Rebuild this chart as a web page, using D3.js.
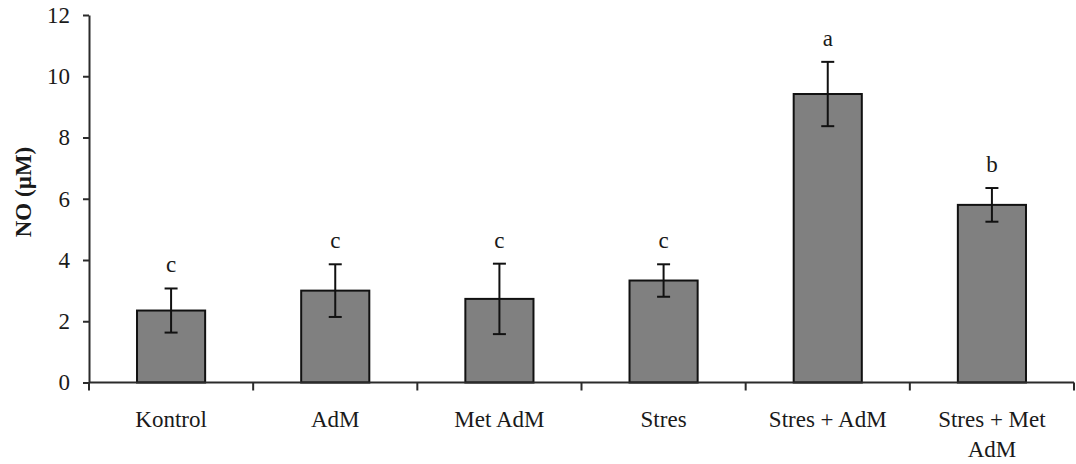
<!DOCTYPE html>
<html>
<head>
<meta charset="utf-8">
<script src="https://cdn.jsdelivr.net/npm/d3@7"></script>
<style>
  html, body { margin: 0; padding: 0; background: #fff; }
  svg { display: block; }
</style>
</head>
<body>
<svg id="chart" width="1076" height="464"></svg>
<script>
// Groups, mean NO concentration (µM), error (±) and significance letters
const groups  = ["Kontrol", "AdM", "Met AdM", "Stres", "Stres + AdM", "Stres + Met AdM"];
const means   = [2.35, 3.0, 2.73, 3.33, 9.42, 5.8];
const errors  = [0.72, 0.86, 1.15, 0.53, 1.05, 0.55];
const letters = ["c", "c", "c", "c", "a", "b"];
const yTicks  = [0, 2, 4, 6, 8, 10, 12];

const FONT = "'Liberation Serif', 'Times New Roman', Times, serif";
const TEXT_COLOR = "#1a1a1a";

const svg = d3.select("#chart");
const margin = { left: 89, right: 2, top: 15, bottom: 81.5 };
const W = 1076, H = 464;

const x = d3.scaleBand()
  .domain(groups)
  .range([margin.left, W - margin.right])
  .paddingInner(0.585)
  .paddingOuter(0.2925);

const xCat = d3.scaleBand().domain(groups).range([margin.left, W - margin.right]);

const y = d3.scaleLinear().domain([0, 12]).range([H - margin.bottom, margin.top]);

const axisColor = "#2b2b2b";

// Bars
svg.append("g").selectAll("rect")
  .data(groups)
  .join("rect")
  .attr("x", d => x(d))
  .attr("y", (d, i) => y(means[i]))
  .attr("width", x.bandwidth())
  .attr("height", (d, i) => y(0) - y(means[i]))
  .attr("fill", "#808080")
  .attr("stroke", "#111")
  .attr("stroke-width", 2);

// Error bars
const capW = 13;
const eb = svg.append("g").attr("stroke", "#111").attr("stroke-width", 2);
groups.forEach((g, i) => {
  const cx = xCat(g) + xCat.bandwidth() / 2;
  const hi = y(means[i] + errors[i]);
  const lo = y(means[i] - errors[i]);
  eb.append("line").attr("x1", cx).attr("x2", cx).attr("y1", hi).attr("y2", lo);
  eb.append("line").attr("x1", cx - capW / 2).attr("x2", cx + capW / 2).attr("y1", hi).attr("y2", hi);
  eb.append("line").attr("x1", cx - capW / 2).attr("x2", cx + capW / 2).attr("y1", lo).attr("y2", lo);
});

// Significance letters
svg.append("g").selectAll("text")
  .data(groups)
  .join("text")
  .attr("x", d => xCat(d) + xCat.bandwidth() / 2)
  .attr("y", (d, i) => y(means[i] + errors[i]) - 16)
  .attr("text-anchor", "middle")
  .attr("font-family", FONT)
  .attr("font-size", 23)
  .attr("fill", TEXT_COLOR)
  .text((d, i) => letters[i]);

// Y axis
const yAxis = svg.append("g")
  .attr("transform", `translate(${margin.left},0)`)
  .call(d3.axisLeft(y).tickValues(yTicks).tickSize(6).tickSizeOuter(0).tickPadding(13));
yAxis.attr("font-family", FONT);
yAxis.select(".domain").attr("stroke", axisColor).attr("stroke-width", 2);
yAxis.selectAll(".tick line").attr("stroke", axisColor).attr("stroke-width", 2);
yAxis.selectAll(".tick text")
  .attr("font-size", 23)
  .attr("font-family", FONT)
  .attr("fill", TEXT_COLOR);

// X axis line with boundary ticks between categories
const xg = svg.append("g");
xg.append("line")
  .attr("x1", margin.left).attr("x2", W - margin.right)
  .attr("y1", y(0)).attr("y2", y(0))
  .attr("stroke", axisColor).attr("stroke-width", 2);
const bounds = groups.map(g => xCat(g)).concat([xCat(groups[groups.length - 1]) + xCat.bandwidth()]);
xg.selectAll("line.bt")
  .data(bounds)
  .join("line")
  .attr("class", "bt")
  .attr("x1", d => d).attr("x2", d => d)
  .attr("y1", y(0)).attr("y2", y(0) + 8)
  .attr("stroke", axisColor).attr("stroke-width", 2);

// Category labels (wrapped where too wide)
const labelLines = g => g === "Stres + Met AdM" ? ["Stres + Met", "AdM"] : [g];
groups.forEach(g => {
  const cx = xCat(g) + xCat.bandwidth() / 2;
  const t = xg.append("text")
    .attr("x", cx)
    .attr("y", 427)
    .attr("text-anchor", "middle")
    .attr("font-family", FONT)
    .attr("font-size", 23)
    .attr("fill", TEXT_COLOR);
  labelLines(g).forEach((ln, k) => {
    t.append("tspan")
      .attr("x", cx)
      .attr("dy", k === 0 ? 0 : 30)
      .text(ln);
  });
});

// Y axis title
svg.append("text")
  .attr("transform", "translate(31,192) rotate(-90)")
  .attr("text-anchor", "middle")
  .attr("font-family", FONT)
  .attr("font-size", 23)
  .attr("font-weight", "bold")
  .attr("fill", TEXT_COLOR)
  .text("NO (µM)");
</script>
</body>
</html>
